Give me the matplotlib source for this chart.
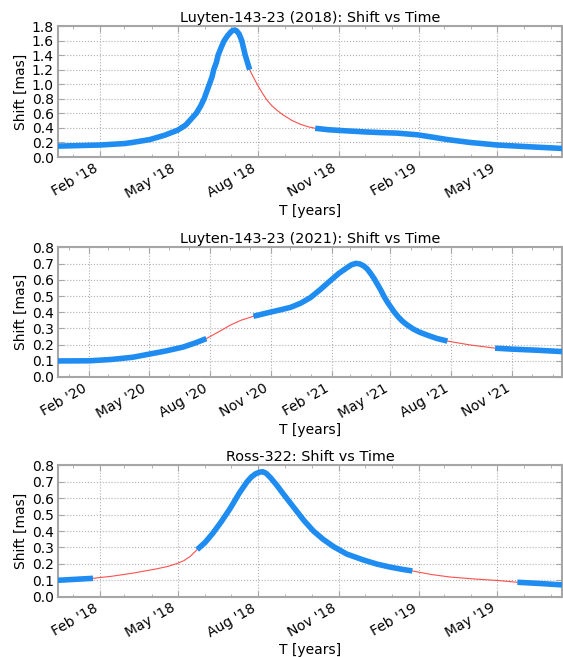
import matplotlib
matplotlib.use("Agg")
import matplotlib.pyplot as plt
import matplotlib.dates as mdates
import pandas as pd
import numpy as np

# ---------------- data ----------------
lut18_dates = ["2017-12-15", "2018-01-01", "2018-02-01", "2018-03-01", "2018-03-10",
               "2018-03-30", "2018-04-16", "2018-05-01", "2018-05-10", "2018-05-16",
               "2018-05-22", "2018-05-27", "2018-05-31", "2018-06-03", "2018-06-06",
               "2018-06-09", "2018-06-11", "2018-06-14", "2018-06-16", "2018-06-20",
               "2018-06-23", "2018-06-27", "2018-07-01", "2018-07-03", "2018-07-05",
               "2018-07-07", "2018-07-10", "2018-07-13", "2018-07-17", "2018-07-22",
               "2018-07-27", "2018-08-01", "2018-08-06", "2018-08-11", "2018-08-16",
               "2018-08-22", "2018-08-29", "2018-09-08", "2018-09-18", "2018-09-27",
               "2018-10-05",
               "2018-10-20", "2018-11-09", "2018-12-01", "2018-12-20", "2019-01-07",
               "2019-01-30", "2019-02-15", "2019-03-05", "2019-03-31", "2019-05-01",
               "2019-06-08", "2019-07-14"]
lut18_shift = [0.150, 0.155, 0.165, 0.185, 0.200,
               0.240, 0.300, 0.370, 0.440, 0.520,
               0.600, 0.700, 0.800, 0.900, 1.000,
               1.100, 1.200, 1.300, 1.400, 1.520,
               1.600, 1.670, 1.725, 1.740, 1.745,
               1.735, 1.690, 1.600, 1.400, 1.200,
               1.080, 0.970, 0.870, 0.780, 0.710,
               0.645, 0.580, 0.505, 0.450, 0.415,
               0.395,
               0.375, 0.360, 0.345, 0.335, 0.328,
               0.305, 0.275, 0.240, 0.200, 0.165,
               0.140, 0.118]
lut18_gaps = [("2018-07-22", "2018-10-05")]

lut21_dates = ["2019-12-16", "2020-02-01", "2020-03-05", "2020-04-07", "2020-04-30",
               "2020-05-26", "2020-06-22", "2020-07-10", "2020-07-27",
               "2020-08-15", "2020-09-01", "2020-09-17", "2020-10-06",
               "2020-10-31", "2020-11-16", "2020-12-01", "2020-12-16", "2020-12-31",
               "2021-01-15", "2021-01-30", "2021-02-12", "2021-02-25", "2021-03-03",
               "2021-03-10", "2021-03-16", "2021-03-22", "2021-03-27", "2021-04-01",
               "2021-04-06", "2021-04-11", "2021-04-16", "2021-04-21", "2021-04-26",
               "2021-05-01", "2021-05-07", "2021-05-13", "2021-05-19", "2021-05-26",
               "2021-06-05", "2021-06-15", "2021-06-26", "2021-07-10", "2021-07-26",
               "2021-08-29", "2021-10-06",
               "2021-11-01", "2021-12-10", "2022-01-15"]
lut21_shift = [0.099, 0.100, 0.108, 0.122, 0.140,
               0.160, 0.185, 0.210, 0.237,
               0.280, 0.320, 0.350, 0.375,
               0.400, 0.415, 0.430, 0.455, 0.490,
               0.540, 0.594, 0.640, 0.677, 0.693,
               0.702, 0.698, 0.685, 0.667, 0.640,
               0.610, 0.575, 0.540, 0.500, 0.465,
               0.435, 0.400, 0.370, 0.345, 0.322,
               0.295, 0.275, 0.258, 0.238, 0.222,
               0.198, 0.178,
               0.172, 0.165, 0.157]
lut21_gaps = [("2020-07-27", "2020-10-06"), ("2021-07-26", "2021-10-06")]

ross_dates = ["2017-12-15", "2018-01-24",
              "2018-02-15", "2018-03-10", "2018-04-05", "2018-04-20", "2018-05-01",
              "2018-05-08", "2018-05-15", "2018-05-23",
              "2018-06-01", "2018-06-10", "2018-06-20", "2018-06-30", "2018-07-10",
              "2018-07-19", "2018-07-24", "2018-07-29", "2018-08-03", "2018-08-06",
              "2018-08-10", "2018-08-15", "2018-08-22", "2018-08-29", "2018-09-06",
              "2018-09-14", "2018-09-22", "2018-10-03", "2018-10-14", "2018-10-26",
              "2018-11-10", "2018-11-29", "2018-12-15", "2018-12-30", "2019-01-12",
              "2019-01-24",
              "2019-02-15", "2019-03-08", "2019-04-05", "2019-05-01", "2019-05-24",
              "2019-06-20", "2019-07-14"]
ross_shift = [0.100, 0.112,
              0.125, 0.143, 0.168, 0.185, 0.204,
              0.220, 0.245, 0.287,
              0.330, 0.387, 0.460, 0.540, 0.630,
              0.700, 0.730, 0.750, 0.760, 0.762,
              0.752, 0.725, 0.680, 0.630, 0.575,
              0.520, 0.465, 0.400, 0.350, 0.305,
              0.260, 0.224, 0.198, 0.180, 0.167,
              0.157,
              0.135, 0.120, 0.108, 0.099, 0.088,
              0.080, 0.072]
ross_gaps = [("2018-01-24", "2018-05-23"), ("2019-01-24", "2019-05-24")]

titles = ["Luyten-143-23 (2018): Shift vs Time",
          "Luyten-143-23 (2021): Shift vs Time",
          "Ross-322: Shift vs Time"]
xlims = [("2017-12-15", "2019-07-14"), ("2019-12-16", "2022-01-15"),
         ("2017-12-15", "2019-07-14")]
ylims = [(0.0, 1.8), (0.0, 0.8), (0.0, 0.8)]
ysteps = [0.2, 0.1, 0.1]

panels = [(lut18_dates, lut18_shift, lut18_gaps),
          (lut21_dates, lut21_shift, lut21_gaps),
          (ross_dates, ross_shift, ross_gaps)]

# ---------------- plot ----------------
BLUE = "#1e8cf0"
RED = "#ff3030"
SPINE = "#a6a6a6"

fig = plt.figure(figsize=(5.63, 6.57), dpi=100)
positions = [[0.1030, 0.7610, 0.8952, 0.1994],
             [0.1030, 0.4262, 0.8952, 0.1971],
             [0.1030, 0.0918, 0.8952, 0.1997]]

for i, (dates, shift, gaps) in enumerate(panels):
    ax = fig.add_axes(positions[i])
    t = pd.to_datetime(pd.Series(dates))
    s = np.array(shift)
    gap_rng = [(pd.Timestamp(a), pd.Timestamp(b)) for a, b in gaps]

    edges = [t.iloc[0]]
    for a, b in gap_rng:
        edges += [a, b]
    edges.append(t.iloc[-1])
    for k in range(0, len(edges), 2):
        m = (t >= edges[k]) & (t <= edges[k + 1])
        ax.plot(t[m], s[m], color=BLUE, lw=4.0, solid_capstyle="butt",
                solid_joinstyle="round", zorder=3)
    for a, b in gap_rng:
        m = (t >= a) & (t <= b)
        ax.plot(t[m], s[m], color=RED, lw=0.8, alpha=0.85, zorder=2)

    ax.set_xlim(pd.Timestamp(xlims[i][0]), pd.Timestamp(xlims[i][1]))
    ax.set_ylim(*ylims[i])
    ax.set_yticks(np.arange(ylims[i][0], ylims[i][1] + 1e-9, ysteps[i]))
    ax.yaxis.set_major_formatter(matplotlib.ticker.FormatStrFormatter("%.1f"))
    ax.xaxis.set_major_locator(mdates.MonthLocator(bymonth=[2, 5, 8, 11]))
    ax.xaxis.set_minor_locator(mdates.MonthLocator())
    ax.xaxis.set_major_formatter(mdates.DateFormatter("%b '%y"))
    for lab in ax.get_xticklabels():
        lab.set_rotation(30)
        lab.set_ha("right")

    ax.grid(True, which="major", linestyle=":", color="#b0b0b0", lw=0.8)
    for sp in ax.spines.values():
        sp.set_color(SPINE)
        sp.set_linewidth(1.5)
    ax.tick_params(which="both", direction="in", top=True, right=True,
                   color=SPINE, labelsize=10, pad=3)
    ax.tick_params(which="major", length=4)
    ax.tick_params(which="minor", length=2)

    ax.set_title(titles[i], fontsize=10.4, pad=3)
    ax.set_xlabel("T [years]", fontsize=10, labelpad=2)
    ax.set_ylabel("Shift [mas]", fontsize=10, labelpad=3)

fig.savefig("out.png", dpi=100)
